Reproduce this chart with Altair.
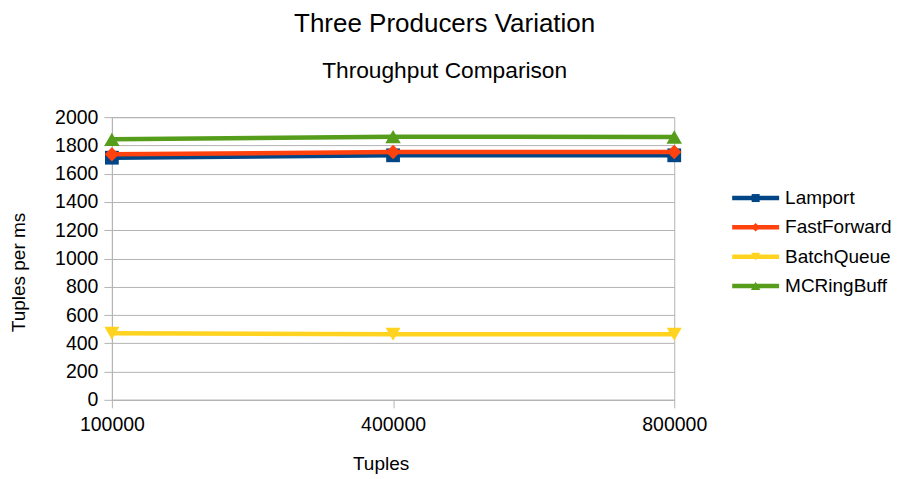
import altair as alt
import pandas as pd

tuples = ["100000", "400000", "800000"]
series = ["Lamport", "FastForward", "BatchQueue", "MCRingBuff"]
lamport = [1713, 1730, 1730]
fastforward = [1737, 1753, 1753]
batchqueue = [471, 464, 464]
mcringbuff = [1843, 1862, 1859]
y_ticks = [0, 200, 400, 600, 800, 1000, 1200, 1400, 1600, 1800, 2000]

colors = ["#004586", "#ff420e", "#ffd320", "#579d1c"]
shapes = ["square", "diamond", "triangle-down", "triangle-up"]
marker_sizes = [190, 240, 256, 256]
legend_marker_sizes = [64, 90, 110, 110]

FONT = "Liberation Sans"
GRID = "#b3b3b3"

rows = []
for name, vals in zip(series, [lamport, fastforward, batchqueue, mcringbuff]):
    for t, v in zip(tuples, vals):
        rows.append({"Tuples": t, "value": v, "series": name})
df = pd.DataFrame(rows)

color_scale = alt.Scale(domain=series, range=colors)
shape_scale = alt.Scale(domain=series, range=shapes)

x_enc = alt.X(
    "Tuples:O",
    sort=tuples,
    scale=alt.Scale(type="point", padding=0),
    axis=alt.Axis(
        title="Tuples", labelAngle=0, labelFontSize=19.5, titleFontSize=19,
        titleFontWeight="normal", labelColor="black", titleColor="black",
        domainColor=GRID, tickColor=GRID, tickSize=8, labelPadding=8,
        titlePadding=20, grid=False, titleX=269, labelFont=FONT, titleFont=FONT,
    ),
)
y_enc = alt.Y(
    "value:Q",
    scale=alt.Scale(domain=[0, 2000], nice=False),
    axis=alt.Axis(
        title="Tuples per ms", values=y_ticks, format="d", labelFontSize=19.5,
        titleFontSize=19, titleFontWeight="normal", labelColor="black",
        titleColor="black", domainColor=GRID, tickColor=GRID, gridColor=GRID,
        tickSize=8, labelPadding=6, titlePadding=26, labelFont=FONT,
        titleFont=FONT, titleY=155,
    ),
)

layers = []
for name in series:
    base = alt.Chart(df).transform_filter(alt.datum.series == name).encode(
        x=x_enc, y=y_enc,
        color=alt.Color("series:N", scale=color_scale, legend=None),
    )
    layers.append(base.mark_line(strokeWidth=4.5))
    layers.append(
        base.mark_point(filled=True, opacity=1).encode(
            shape=alt.Shape("series:N", scale=shape_scale, legend=None),
            size=alt.Size("series:N", scale=alt.Scale(domain=series, range=marker_sizes), legend=None),
        )
    )

main = alt.layer(*layers).properties(
    width=563, height=283, view=alt.ViewBackground(stroke=GRID)
)

leg_df = pd.DataFrame({"series": series})
ly = alt.Y("series:N", sort=series,
           scale=alt.Scale(type="point", range=[81, 169], padding=0), axis=None)
leg_color = alt.Color("series:N", scale=color_scale, legend=None)
leg_rule = alt.Chart(leg_df).mark_rule(strokeWidth=4.5).encode(
    y=ly, x=alt.value(0), x2=alt.value(47), color=leg_color
)
leg_pt = alt.Chart(leg_df).mark_point(filled=True, opacity=1).encode(
    y=ly, x=alt.value(23.5), color=leg_color,
    shape=alt.Shape("series:N", scale=shape_scale, legend=None),
    size=alt.Size("series:N", scale=alt.Scale(domain=series, range=legend_marker_sizes), legend=None),
)
leg_txt = alt.Chart(leg_df).mark_text(
    align="left", baseline="middle", fontSize=19, font=FONT, color="black"
).encode(y=ly, x=alt.value(53), text="series:N")
legend = alt.layer(leg_rule, leg_pt, leg_txt).properties(
    width=140, height=283, view=alt.ViewBackground(stroke="transparent")
)

chart = (
    alt.hconcat(main, legend, spacing=21)
    .resolve_scale(x="independent", y="independent", size="independent")
    .properties(
        title=alt.TitleParams(
            text="Three Producers Variation",
            subtitle="Throughput Comparison",
            fontSize=26, subtitleFontSize=22.75, font=FONT, subtitleFont=FONT,
            fontWeight="normal", color="black", subtitleColor="black",
            anchor="middle", subtitlePadding=23, offset=24, dx=-6,
        )
    )
    .configure(font=FONT, padding={"left": 1, "top": 2, "right": 0, "bottom": 0})
    .configure_view(stroke="transparent")
)

chart.save("out.html", embed_options={"renderer": "svg", "actions": False})
